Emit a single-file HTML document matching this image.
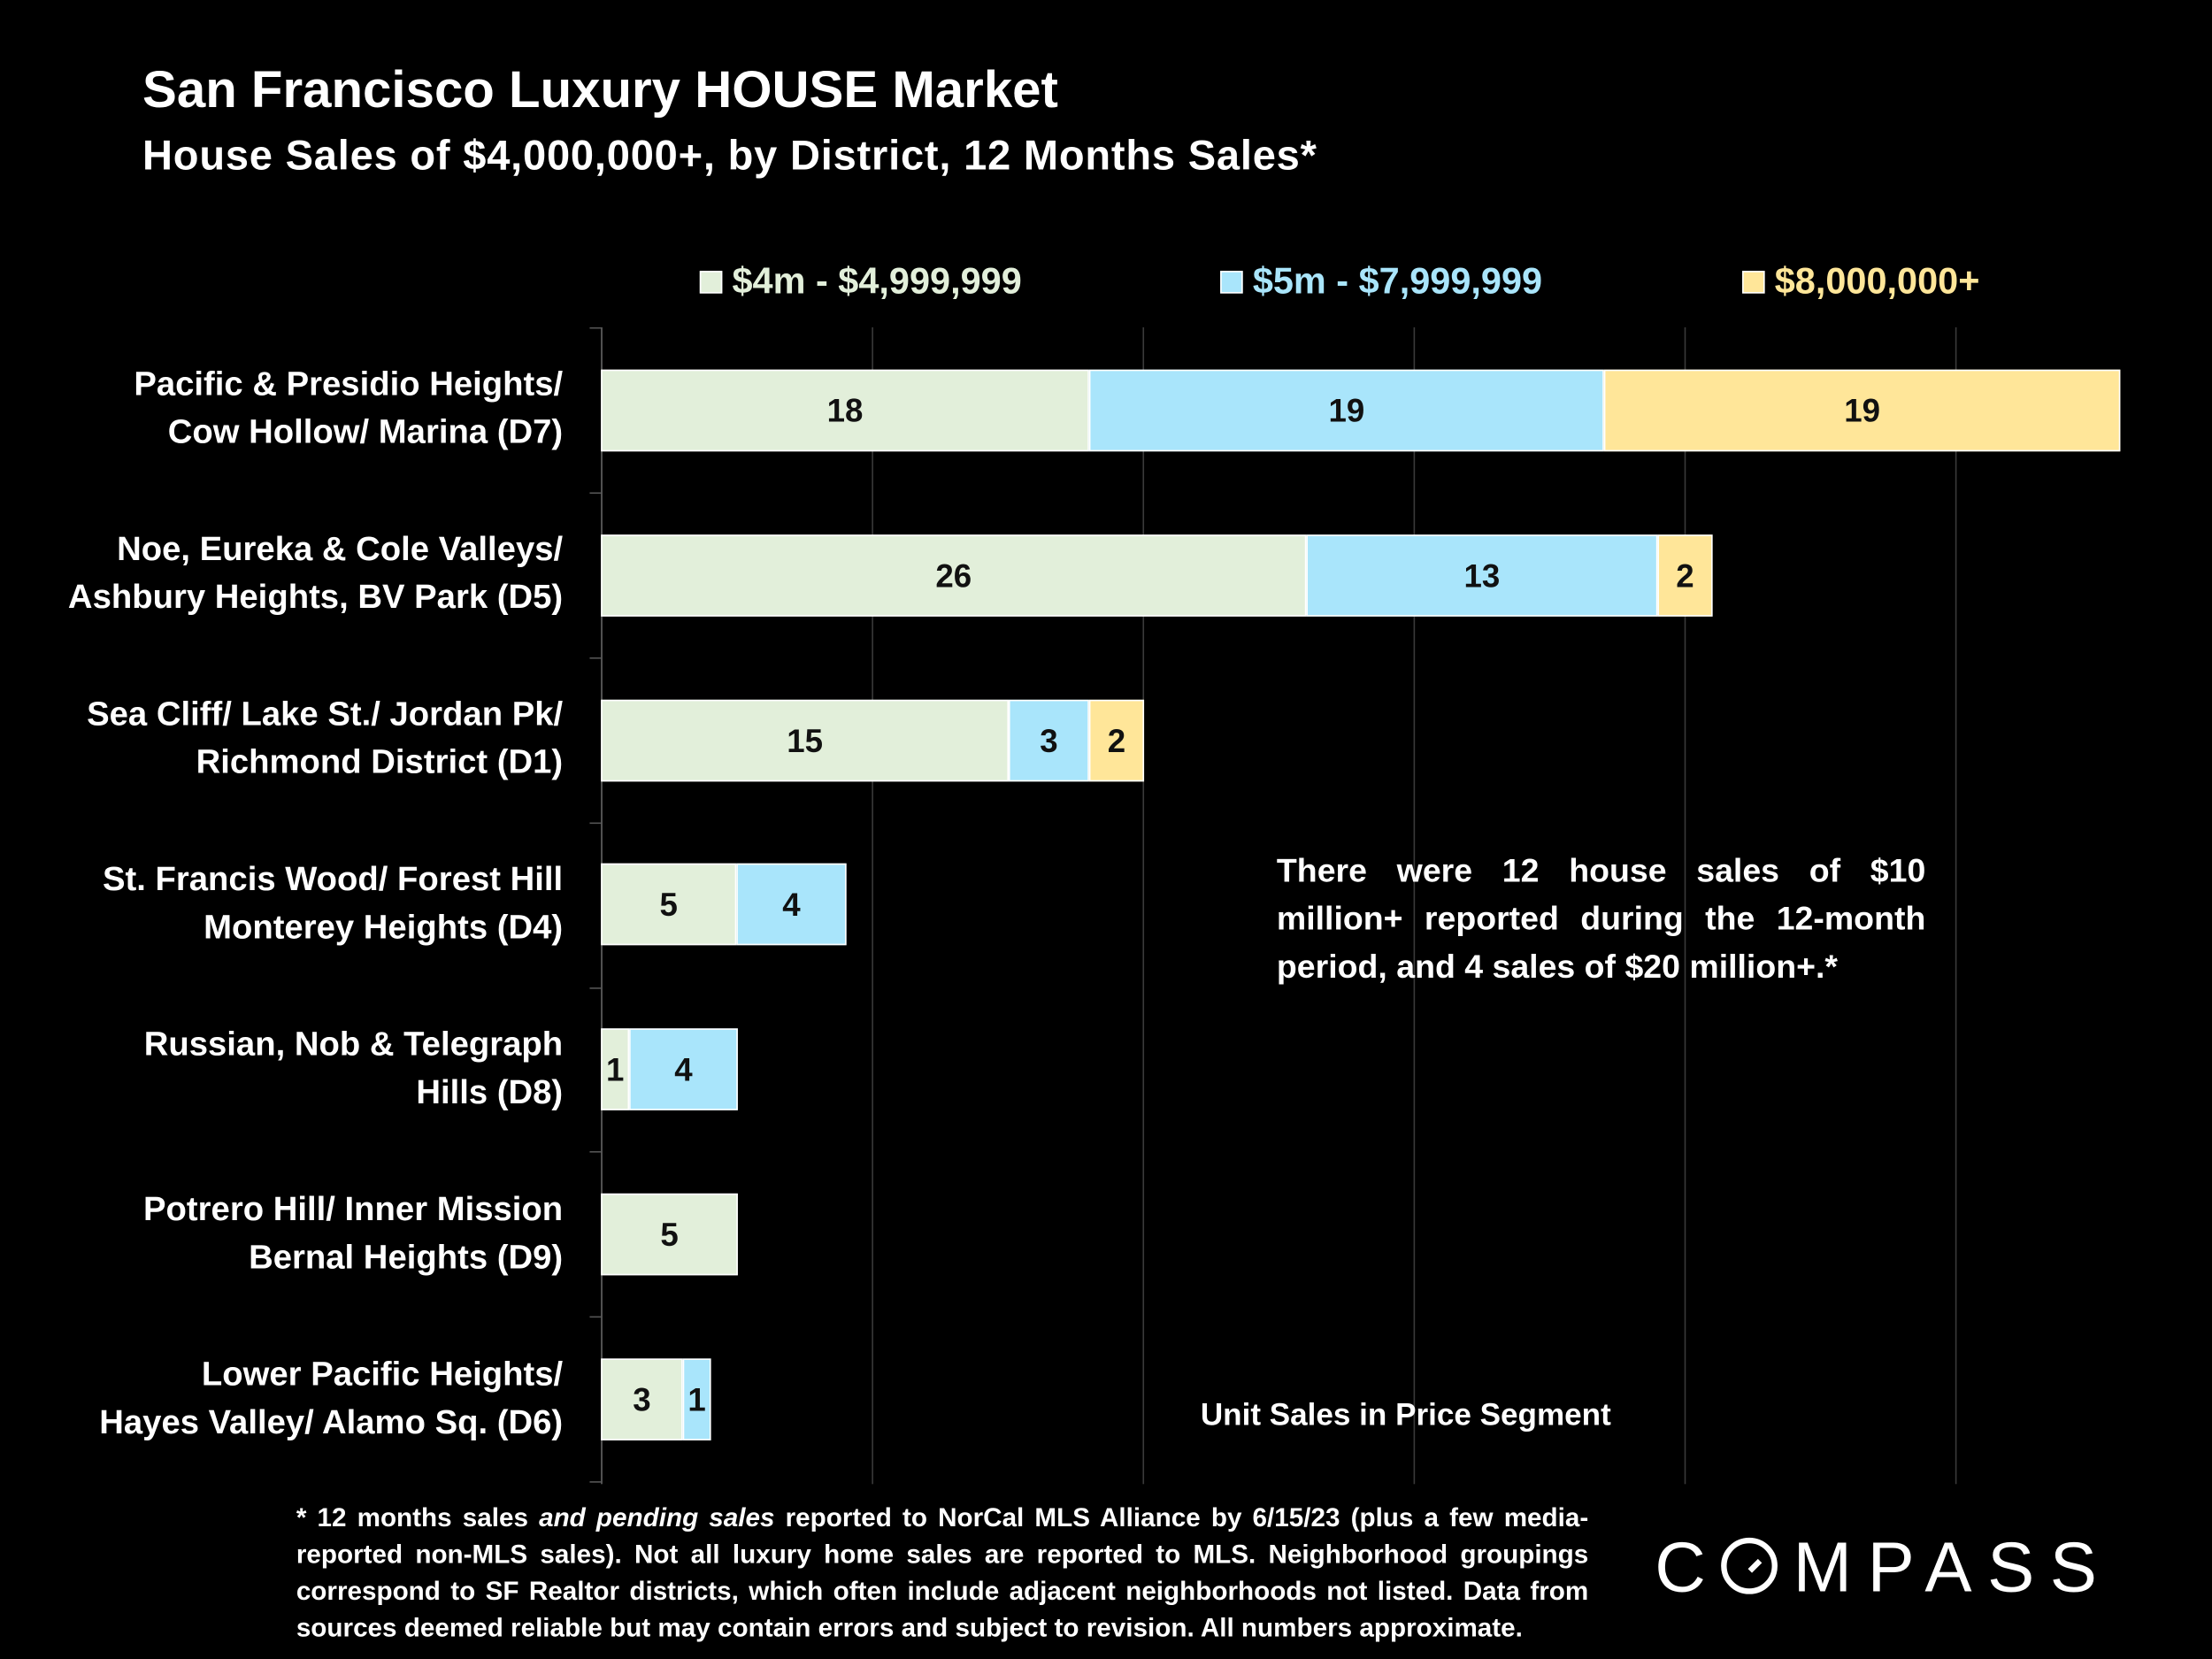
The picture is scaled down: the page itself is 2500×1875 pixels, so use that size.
<!DOCTYPE html>
<html><head><meta charset="utf-8"><style>
html,body{margin:0;padding:0;background:#000;width:2500px;height:1875px;overflow:hidden}
#w{position:absolute;left:0;top:0;width:1568px;height:1176px;transform:scale(1.59439,1.59439);transform-origin:0 0;font-family:"Liberation Sans",sans-serif;font-weight:bold;color:#fff}
.a{position:absolute;white-space:nowrap}
.bar{position:absolute;height:58px;box-sizing:border-box;border:1px solid #fff;color:#111;font-size:23px;display:flex;align-items:center;justify-content:center}
.g{background:#e2efda}.b{background:#a9e5fb}.y{background:#ffe699}
.lab{position:absolute;right:1169px;text-align:right;font-size:24px;line-height:34px;white-space:nowrap}
.grid{position:absolute;top:232px;height:820px;width:1px;background:#3a3a3a}
.tk{position:absolute;left:418px;width:8px;height:1px;background:#555}
.sq{position:absolute;width:16px;height:16px;border:1px solid #fff;box-sizing:border-box}
.j{text-align:justify;text-align-last:left;white-space:normal}
</style></head><body><div id="w">
<div class="a" style="left:101px;top:43px;font-size:36.5px;letter-spacing:0px">San Francisco Luxury HOUSE Market</div>
<div class="a" style="left:101px;top:94px;font-size:29.5px;letter-spacing:0.5px">House Sales of $4,000,000+, by District, 12 Months Sales*</div>

<div class="sq g" style="left:496px;top:192px"></div><div class="a" style="left:519px;top:184px;font-size:26px;color:#e2efda">$4m - $4,999,999</div>
<div class="sq b" style="left:865px;top:192px"></div><div class="a" style="left:888px;top:184px;font-size:26px;color:#a9e5fb">$5m - $7,999,999</div>
<div class="sq y" style="left:1235px;top:192px"></div><div class="a" style="left:1258px;top:184px;font-size:26px;color:#ffe699">$8,000,000+</div>

<div class="grid" style="left:618px"></div><div class="grid" style="left:810px"></div><div class="grid" style="left:1002px"></div><div class="grid" style="left:1194px"></div><div class="grid" style="left:1386px"></div>
<div style="position:absolute;left:426px;top:232px;width:1px;height:820px;background:#666"></div>
<div class="tk" style="top:232px"></div><div class="tk" style="top:349px"></div><div class="tk" style="top:466px"></div><div class="tk" style="top:583px"></div><div class="tk" style="top:700px"></div><div class="tk" style="top:816px"></div><div class="tk" style="top:933px"></div><div class="tk" style="top:1050px"></div>

<div class="bar g" style="left:426px;top:262px;width:346px">18</div><div class="bar b" style="left:772px;top:262px;width:365px">19</div><div class="bar y" style="left:1137px;top:262px;width:366px">19</div>
<div class="bar g" style="left:426px;top:379px;width:500px">26</div><div class="bar b" style="left:926px;top:379px;width:249px">13</div><div class="bar y" style="left:1175px;top:379px;width:39px">2</div>
<div class="bar g" style="left:426px;top:496px;width:289px">15</div><div class="bar b" style="left:715px;top:496px;width:57px">3</div><div class="bar y" style="left:772px;top:496px;width:39px">2</div>
<div class="bar g" style="left:426px;top:612px;width:96px">5</div><div class="bar b" style="left:522px;top:612px;width:78px">4</div>
<div class="bar g" style="left:426px;top:729px;width:20px">1</div><div class="bar b" style="left:446px;top:729px;width:77px">4</div>
<div class="bar g" style="left:426px;top:846px;width:97px">5</div>
<div class="bar g" style="left:426px;top:963px;width:58px">3</div><div class="bar b" style="left:484px;top:963px;width:20px">1</div>

<div class="lab" style="top:256px">Pacific &amp; Presidio Heights/<br>Cow Hollow/ Marina (D7)</div>
<div class="lab" style="top:373px">Noe, Eureka &amp; Cole Valleys/<br>Ashbury Heights, BV Park (D5)</div>
<div class="lab" style="top:490px">Sea Cliff/ Lake St./ Jordan Pk/<br>Richmond District (D1)</div>
<div class="lab" style="top:607px">St. Francis Wood/ Forest Hill<br>Monterey Heights (D4)</div>
<div class="lab" style="top:724px">Russian, Nob &amp; Telegraph<br>Hills (D8)</div>
<div class="lab" style="top:841px">Potrero Hill/ Inner Mission<br>Bernal Heights (D9)</div>
<div class="lab" style="top:958px">Lower Pacific Heights/<br>Hayes Valley/ Alamo Sq. (D6)</div>

<div class="a j" style="left:905px;top:600px;width:460px;font-size:23.5px;line-height:34px">There were 12 house sales of $10 million+ reported during the 12-month period, and 4 sales of $20 million+.*</div>
<div class="a" style="left:851px;top:990px;font-size:22px">Unit Sales in Price Segment</div>

<div class="a j" style="left:210px;top:1063px;width:916px;font-size:18.6px;line-height:26px">* 12 months sales <i>and pending sales</i> reported to NorCal MLS Alliance by 6/15/23 (plus a few media-reported non-MLS sales). Not all luxury home sales are reported to MLS. Neighborhood groupings correspond to SF Realtor districts, which often include adjacent neighborhoods not listed. Data from sources deemed reliable but may contain errors and subject to revision. All numbers approximate.</div>

<div class="a" style="left:1173px;top:1082px;font-size:50px;font-weight:normal;letter-spacing:11px">C<span style="display:inline-block;width:40px;height:40px;border:4px solid #fff;border-radius:50%;box-sizing:border-box;vertical-align:-2px;margin:0 11px 0 0;position:relative"><span style="position:absolute;left:15px;top:14px;width:10px;height:4px;background:#fff;transform:rotate(-45deg)"></span></span>MPASS</div>
</div></body></html>
